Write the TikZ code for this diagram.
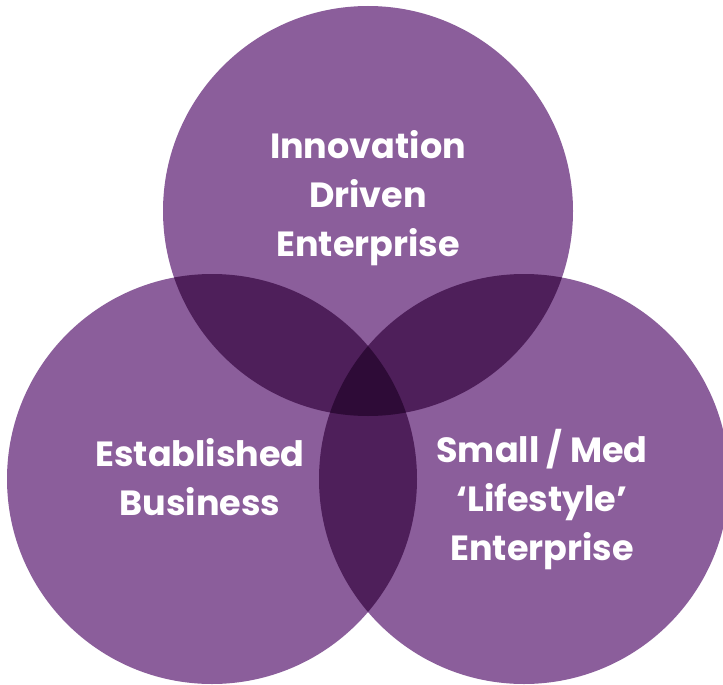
\documentclass[tikz,border=0pt]{standalone}
\usepackage{fontspec}
\setmainfont{Poppins}
\definecolor{base}{HTML}{8B5E9B}
\definecolor{pair}{HTML}{4E1F5A}
\definecolor{triple}{HTML}{2E0B37}
\tikzset{
  lbl/.style={text=white, font=\bfseries\fontsize{35}{49}\selectfont, align=center, inner sep=0pt}
}
\begin{document}
\begin{tikzpicture}[x=1pt,y=-1pt]
\useasboundingbox (0,0) rectangle (723,685);
\fill[white] (0,0) rectangle (723,685);
\clip (0,0) rectangle (723,685);
\coordinate (T) at (368,211);
\coordinate (L) at (212,479);
\coordinate (R) at (524,479);
\def\rr{205}
\fill[base] (T) circle[radius=\rr];
\fill[base] (L) circle[radius=\rr];
\fill[base] (R) circle[radius=\rr];
\begin{scope}
  \clip (T) circle[radius=\rr];
  \fill[pair] (L) circle[radius=\rr];
  \fill[pair] (R) circle[radius=\rr];
\end{scope}
\begin{scope}
  \clip (L) circle[radius=\rr];
  \fill[pair] (R) circle[radius=\rr];
\end{scope}
\begin{scope}
  \clip (T) circle[radius=\rr];
  \clip (L) circle[radius=\rr];
  \fill[triple] (R) circle[radius=\rr];
\end{scope}
\node[lbl] (ide) at (368,198) {Innovation\\Driven\\Enterprise};
\node[lbl] (eb) at (200,477) {Established\\Business};
\node[lbl] (sme) at (542,500) {Small / Med\\`Lifestyle'\\Enterprise};
\end{tikzpicture}
\end{document}
